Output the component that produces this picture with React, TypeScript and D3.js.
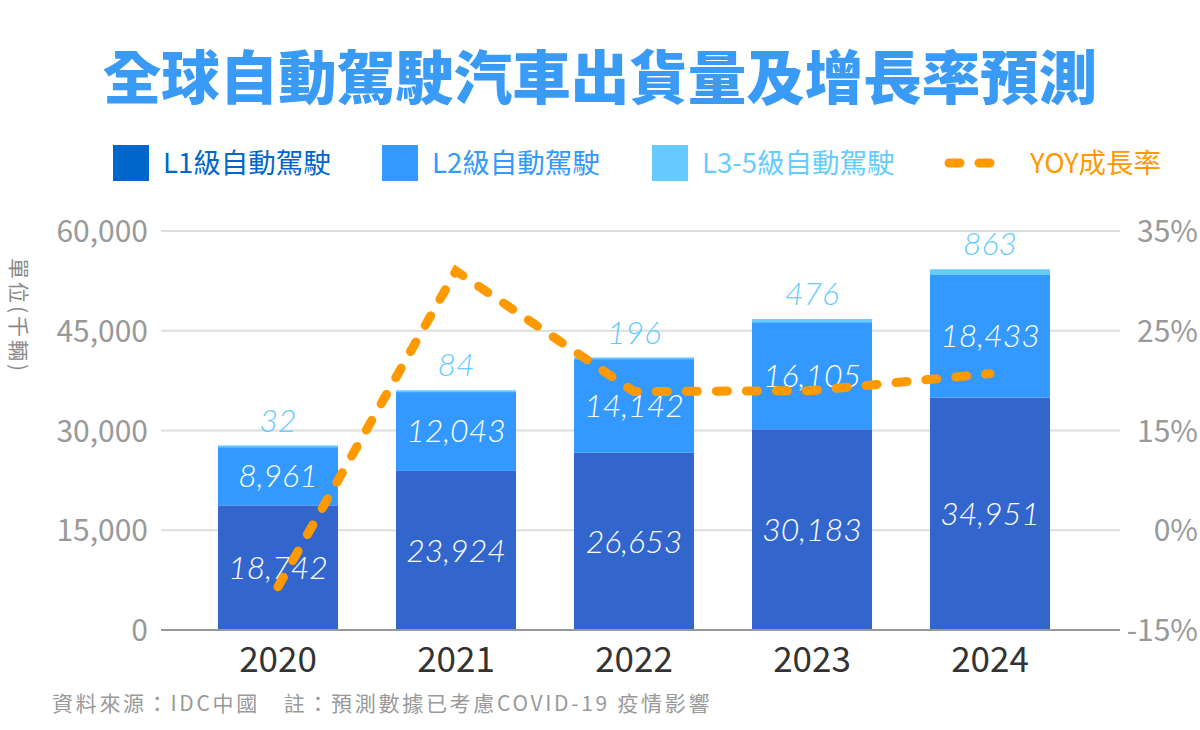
import React, { useEffect, useRef } from "react";
import * as d3 from "d3";

const years = ["2020", "2021", "2022", "2023", "2024"];
const l1 = [18742, 23924, 26653, 30183, 34951];
const l2 = [8961, 12043, 14142, 16105, 18433];
const l35 = [32, 84, 196, 476, 863];
const yoy = [-8.5, 31, 18.9, 19.0, 20.7];
const leftTicks = [0, 15000, 30000, 45000, 60000];
const rightTicks = [-15, 0, 15, 25, 35];

const W = 1200;
const H = 730;
const cjk = "'Noto Sans CJK TC', 'Noto Sans', sans-serif";
const C1 = "#3366cc";
const C1L = "#0066cc";
const C2 = "#3399ff";
const C3 = "#66ccff";
const OR = "#ff9900";

export default function App() {
  const ref = useRef<SVGSVGElement | null>(null);

  useEffect(() => {
    if (!ref.current) return;
    const svg = d3.select(ref.current);
    svg.selectAll("*").remove();

    const left = 161, right = 1120, top = 231, bottom = 630;

    const x = d3.scaleBand().domain(years).range([189, 1079]).paddingInner(58 / 178).paddingOuter(29 / 178);
    const y = d3.scaleLinear().domain([0, 60000]).range([bottom, top]);
    // right axis labels are not evenly spaced, so piecewise
    const yR = d3.scaleLinear().domain(rightTicks).range(leftTicks.map(v => y(v)));

    // title
    svg.append("text").attr("x", W / 2).attr("y", 99).attr("text-anchor", "middle")
      .attr("font-family", cjk).attr("font-weight", 900).attr("font-size", 58.5)
      .attr("fill", "#3a9bf7").text("全球自動駕駛汽車出貨量及增長率預測");

    // legend
    const leg = [
      { label: "L1級自動駕駛", color: C1L, x: 113 },
      { label: "L2級自動駕駛", color: C2, x: 382 },
      { label: "L3-5級自動駕駛", color: C3, x: 652 },
    ];
    leg.forEach(l => {
      svg.append("rect").attr("x", l.x).attr("y", 145).attr("width", 36).attr("height", 36).attr("fill", l.color);
      svg.append("text").attr("x", l.x + 50).attr("y", 173).attr("font-family", cjk).attr("font-size", 27.5)
        .attr("fill", l.color).text(l.label);
    });
    svg.append("line").attr("x1", 949).attr("x2", 1008).attr("y1", 163).attr("y2", 163)
      .attr("stroke", OR).attr("stroke-width", 9).attr("stroke-linecap", "round").attr("stroke-dasharray", "11,19");
    svg.append("text").attr("x", 1030).attr("y", 173).attr("font-family", cjk).attr("font-size", 27.5)
      .attr("fill", OR).text("YOY成長率");

    // grid
    svg.append("g").selectAll("line").data(leftTicks.slice(1)).enter().append("line")
      .attr("x1", left).attr("x2", right).attr("y1", d => y(d)).attr("y2", d => y(d))
      .attr("stroke", "#dddddd").attr("stroke-width", 2);

    // left axis
    const la = svg.append("g").attr("transform", `translate(${left - 13},0)`)
      .call(d3.axisLeft(y).tickValues(leftTicks).tickSize(0).tickPadding(0).tickFormat(d3.format(",")));
    la.select(".domain").remove();
    la.selectAll("text").attr("font-family", cjk).attr("font-size", 30).attr("fill", "#999").attr("dy", "0.35em");

    // right axis
    const ra = svg.append("g").attr("transform", `translate(1198,0)`)
      .call(d3.axisLeft(yR).tickValues(rightTicks).tickSize(0).tickPadding(0).tickFormat(d => d + "%"));
    ra.select(".domain").remove();
    ra.selectAll("text").attr("font-family", cjk).attr("font-size", 30).attr("fill", "#999").attr("dy", "0.35em");

    // y title
    svg.append("text").attr("transform", `translate(11,316) rotate(90)`).attr("text-anchor", "middle")
      .attr("font-family", cjk).attr("font-size", 21).attr("letter-spacing", 3).attr("fill", "#888").text("單位(千輛)");

    // bars
    const bw = x.bandwidth();
    const g = svg.append("g");
    years.forEach((yr, i) => {
      const bx = x(yr) || 0;
      const t1 = l1[i], t2 = t1 + l2[i], t3 = t2 + l35[i];
      g.append("rect").attr("x", bx).attr("width", bw).attr("y", y(t1)).attr("height", y(0) - y(t1)).attr("fill", C1);
      g.append("rect").attr("x", bx).attr("width", bw).attr("y", y(t2)).attr("height", y(t1) - y(t2)).attr("fill", C2);
      g.append("rect").attr("x", bx).attr("width", bw).attr("y", y(t3)).attr("height", Math.max(2, y(t2) - y(t3))).attr("fill", C3);
      const cx = bx + bw / 2;
      const lab = (yy: number, txt: string, col: string) =>
        g.append("text").attr("x", cx).attr("y", yy).attr("dy", "0.35em").attr("text-anchor", "middle")
          .attr("font-family", "Lato, 'Open Sans', sans-serif").attr("font-style", "italic").attr("font-weight", 300)
          .attr("font-size", 32).attr("fill", col).text(txt);
      lab((y(0) + y(t1)) / 2, d3.format(",")(l1[i]), "#ffffff");
      lab((y(t1) + y(t2)) / 2, d3.format(",")(l2[i]), "#ffffff");
      lab(y(t3) - 25, d3.format(",")(l35[i]), C3);
    });

    // baseline
    svg.append("line").attr("x1", left).attr("x2", right).attr("y1", bottom).attr("y2", bottom)
      .attr("stroke", "#999").attr("stroke-width", 2);

    // x labels
    svg.append("g").selectAll("text").data(years).enter().append("text")
      .attr("x", d => (x(d) || 0) + bw / 2).attr("y", 672).attr("text-anchor", "middle")
      .attr("font-family", cjk).attr("font-size", 35).attr("fill", "#333").text(d => d);

    // yoy line
    const line = d3.line<number>().x((_, i) => (x(years[i]) || 0) + bw / 2).y(d => yR(d));
    svg.append("path").datum(yoy).attr("d", line).attr("fill", "none").attr("stroke", OR)
      .attr("stroke-width", 9).attr("stroke-linecap", "round").attr("stroke-dasharray", "11,19");

    // footer
    svg.append("text").attr("x", 52).attr("y", 711).attr("font-family", cjk).attr("font-size", 21)
      .attr("letter-spacing", 2.7).attr("fill", "#999")
      .text("資料來源：IDC中國　註：預測數據已考慮COVID-19 疫情影響");
  }, []);

  return (
    <div style={{ position: "absolute", left: 0, top: 0 }}>
      <svg ref={ref} width={W} height={H} style={{ display: "block", background: "#fff" }} />
    </div>
  );
}
